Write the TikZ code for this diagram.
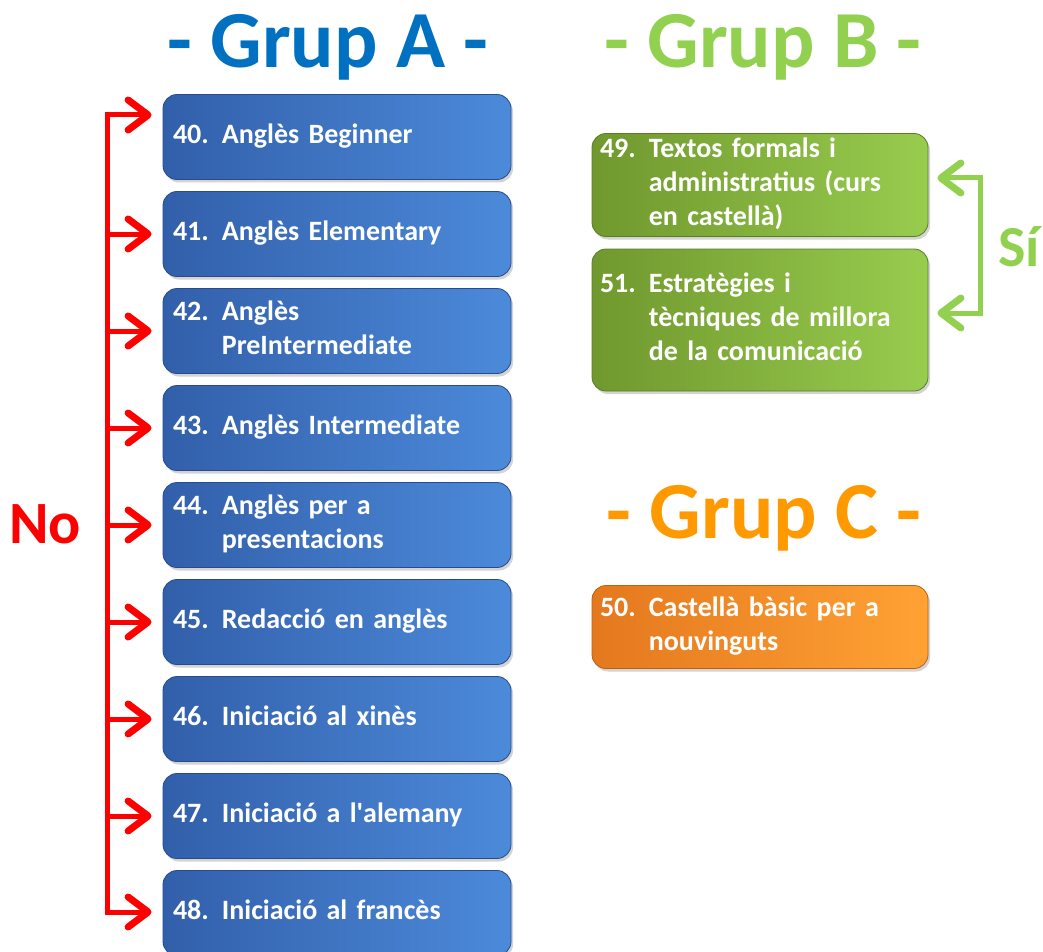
\documentclass[tikz,border=0pt]{standalone}
\usepackage{fontspec}
\setmainfont{Carlito}
\usetikzlibrary{arrows.meta,shadows}
\definecolor{titolA}{RGB}{0,112,192}
\definecolor{titolB}{RGB}{146,208,80}
\definecolor{titolC}{RGB}{255,153,0}
\definecolor{blauesq}{RGB}{50,95,170}
\definecolor{blaudre}{RGB}{76,138,218}
\definecolor{blauvora}{RGB}{40,75,140}
\definecolor{verdesq}{RGB}{112,152,46}
\definecolor{verddre}{RGB}{152,204,78}
\definecolor{verdvora}{RGB}{90,125,35}
\definecolor{taronjaesq}{RGB}{228,120,30}
\definecolor{taronjadre}{RGB}{255,162,52}
\definecolor{taronjavora}{RGB}{190,95,20}
\definecolor{vermell}{RGB}{255,0,0}
\newcommand\curs[2]{\begin{tabular}{@{}l@{\hspace{13pt}}l@{}}#1&#2\end{tabular}}
\begin{document}
\begin{tikzpicture}[x=1pt,y=-1pt,
  caixa/.style={draw, line width=0.8pt, rounded corners=14pt, minimum height=85pt,
    inner ysep=0pt, align=left, text=white, font=\fontsize{28}{34}\bfseries\selectfont,
    drop shadow={opacity=0.35,shadow xshift=2pt,shadow yshift=-3pt}},
  blau/.style={caixa, draw=blauvora, left color=blauesq, right color=blaudre,
    text width=328pt, inner xsep=10pt},
  verd/.style={caixa, draw=verdvora, left color=verdesq, right color=verddre,
    text width=320pt, inner xsep=8pt},
  taronja/.style={caixa, draw=taronjavora, left color=taronjaesq, right color=taronjadre,
    text width=320pt, inner xsep=8pt},
  titol/.style={anchor=base, font=\fontsize{81}{90}\bfseries\selectfont},
  fletxa/.style={line width=5pt, -{Straight Barb[length=20pt,width=30pt,line width=7pt,round]}},
  linia/.style={line width=5pt, line cap=rect}]
\useasboundingbox (0,0) rectangle (1043,952);
% titols
\node[titol,text=titolA] (ga) at (328,68) {- Grup A -};
\node[titol,text=titolB] (gb) at (763,68) {- Grup B -};
\node[titol,text=titolC] (gc) at (764,538) {- Grup C -};
% grup A
\node[blau] (40) at (337,137) {\curs{40.}{Anglès Beginner}};
\node[blau] (41) at (337,234) {\curs{41.}{Anglès Elementary}};
\node[blau] (42) at (337,331) {\curs{42.}{Anglès\\ & PreIntermediate}};
\node[blau] (43) at (337,428) {\curs{43.}{Anglès Intermediate}};
\node[blau] (44) at (337,525) {\curs{44.}{Anglès per a\\ & presentacions}};
\node[blau] (45) at (337,622) {\curs{45.}{Redacció en anglès}};
\node[blau] (46) at (337,719) {\curs{46.}{Iniciació al xinès}};
\node[blau] (47) at (337,816) {\curs{47.}{Iniciació a l\textquotesingle alemany}};
\node[blau] (48) at (337,913) {\curs{48.}{Iniciació al francès}};
% grup B i C
\node[verd,minimum height=103pt] (49) at (760,185) {\curs{49.}{Textos formals i\\ & administratius (curs\\ & en castellà)}};
\node[verd,minimum height=142pt] (51) at (760,320) {\curs{51.}{Estratègies i\\ & tècniques de millora\\ & de la comunicació}};
\node[taronja,minimum height=83pt] (50) at (760,627) {\curs{50.}{Castellà bàsic per a\\ & nouvinguts}};
% No
\coordinate (dalt) at (107,115);
\coordinate (baix) at (107,912);
\draw[linia,vermell] (dalt) -- (baix);
\draw[fletxa,vermell,shorten >=11pt] (dalt) -- (dalt -| 40.west);
\foreach \n in {41,...,47}
  \draw[fletxa,vermell,shorten >=11pt] (dalt |- \n.west) -- (\n.west);
\draw[fletxa,vermell,shorten >=11pt] (baix) -- (baix -| 48.west);
\node[anchor=base,text=vermell,font=\fontsize{60}{66}\bfseries\selectfont] (no) at (45,543) {No};
% Si
\coordinate (s49) at (980,178);
\coordinate (s51) at (980,313);
\draw[linia,titolB] (s49) -- (s51);
\draw[fletxa,titolB,shorten >=9pt] (s49) -- (s49 -| 49.east);
\draw[fletxa,titolB,shorten >=9pt] (s51) -- (s51 -| 51.east);
\node[anchor=base,text=titolB,font=\fontsize{58}{64}\bfseries\selectfont] (si) at (1019,266) {Sí};
\end{tikzpicture}
\end{document}
